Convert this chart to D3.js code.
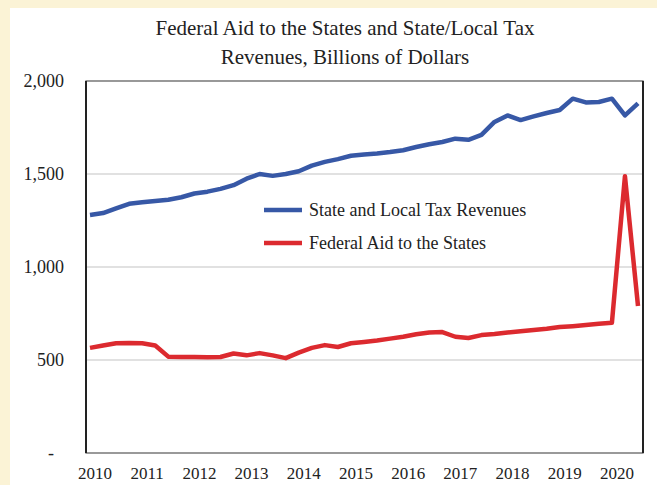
<!DOCTYPE html>
<html>
<head>
<meta charset="utf-8">
<script src="https://cdn.jsdelivr.net/npm/d3@7"></script>
<style>
  body { margin: 0; background: #fff; }
  svg text { font-family: "Liberation Serif", "DejaVu Serif", serif; fill: #222; }
</style>
</head>
<body>
<svg id="chart" width="657" height="485"></svg>
<script>
// quarterly, 2010Q1 .. 2020Q3
const years = [2010, 2011, 2012, 2013, 2014, 2015, 2016, 2017, 2018, 2019, 2020];
const yTicks = [0, 500, 1000, 1500, 2000];
const taxRevenues = [1280, 1290, 1315, 1340, 1348, 1355, 1362, 1375, 1395, 1405, 1420, 1440,
    1475, 1500, 1490, 1500, 1515, 1545, 1565, 1580, 1598, 1605, 1610, 1618, 1628, 1645,
    1660, 1672, 1690, 1684, 1710, 1780, 1815, 1790, 1810, 1828, 1844, 1905, 1885, 1887,
    1905, 1815, 1880];
const federalAid = [565, 578, 590, 591, 590, 578, 518, 516, 516, 515, 516, 535, 525, 537,
    525, 510, 540, 565, 580, 570, 590, 597, 605, 615, 625, 638, 648, 650, 625, 618, 634,
    640, 648, 655, 661, 668, 677, 682, 688, 695, 700, 1488, 790];

const svg = d3.select("#chart");
const plotLeft = 86, plotRight = 643, plotTop = 81, plotBottom = 453;

// cream strips on top and left edge
svg.append("rect").attr("width", 657).attr("height", 485).attr("fill", "#fff");
svg.append("rect").attr("width", 657).attr("height", 8).attr("fill", "#fbf3d6");
svg.append("rect").attr("width", 10).attr("height", 485).attr("fill", "#fbf3d6");

const x = d3.scaleLinear().domain([0, taxRevenues.length - 1]).range([90, 638]);
const y = d3.scaleLinear().domain([0, 2000]).range([plotBottom, plotTop]);

// title
svg.append("text").attr("x", 345).attr("y", 35).attr("text-anchor", "middle")
    .style("font-size", "21px").text("Federal Aid to the States and State/Local Tax");
svg.append("text").attr("x", 345).attr("y", 64).attr("text-anchor", "middle")
    .style("font-size", "21px").text("Revenues, Billions of Dollars");

// gridlines
svg.selectAll(".grid").data(yTicks.filter(d => d > 0 && d < 2000)).enter()
    .append("line")
    .attr("x1", plotLeft).attr("x2", plotRight)
    .attr("y1", d => y(d)).attr("y2", d => y(d))
    .attr("stroke", "#c4c4c4").attr("stroke-width", 1.2);

// frame
svg.append("rect").attr("x", plotLeft).attr("y", plotTop)
    .attr("width", plotRight - plotLeft).attr("height", plotBottom - plotTop)
    .attr("fill", "none").attr("stroke", "#555").attr("stroke-width", 1.2);
svg.append("line").attr("x1", plotLeft).attr("x2", plotLeft).attr("y1", plotTop).attr("y2", plotBottom)
    .attr("stroke", "#222").attr("stroke-width", 2);
svg.append("line").attr("x1", plotRight).attr("x2", plotRight).attr("y1", plotTop).attr("y2", plotBottom)
    .attr("stroke", "#222").attr("stroke-width", 2);

// y labels (zero shown as an accounting dash)
svg.selectAll(".ylab").data(yTicks).enter()
    .append("text")
    .attr("x", d => d === 0 ? 54 : 64).attr("y", d => y(d) + 6)
    .attr("text-anchor", "end")
    .style("font-size", "18px")
    .text(d => d === 0 ? "-" : d3.format(",")(d));

// x labels
svg.selectAll(".xlab").data(years).enter()
    .append("text")
    .attr("x", (d, i) => x(i * 4) + 5)
    .attr("y", 479)
    .attr("text-anchor", "middle")
    .style("font-size", "17px")
    .text(d => d);

const line = d3.line().x((d, i) => x(i)).y(d => y(d));

svg.append("path").datum(taxRevenues).attr("d", line)
    .attr("fill", "none").attr("stroke", "#3758a6").attr("stroke-width", 4.5)
    .attr("stroke-linejoin", "round");
svg.append("path").datum(federalAid).attr("d", line)
    .attr("fill", "none").attr("stroke", "#dc2a2f").attr("stroke-width", 4.5)
    .attr("stroke-linejoin", "round");

// legend
const legend = [
    { label: "State and Local Tax Revenues", color: "#3758a6", y: 210 },
    { label: "Federal Aid to the States", color: "#dc2a2f", y: 243 }
];
legend.forEach(l => {
    svg.append("line").attr("x1", 264).attr("x2", 302).attr("y1", l.y).attr("y2", l.y)
        .attr("stroke", l.color).attr("stroke-width", 4.5);
    svg.append("text").attr("x", 309).attr("y", l.y + 6)
        .style("font-size", "18px").text(l.label);
});
</script>
</body>
</html>
